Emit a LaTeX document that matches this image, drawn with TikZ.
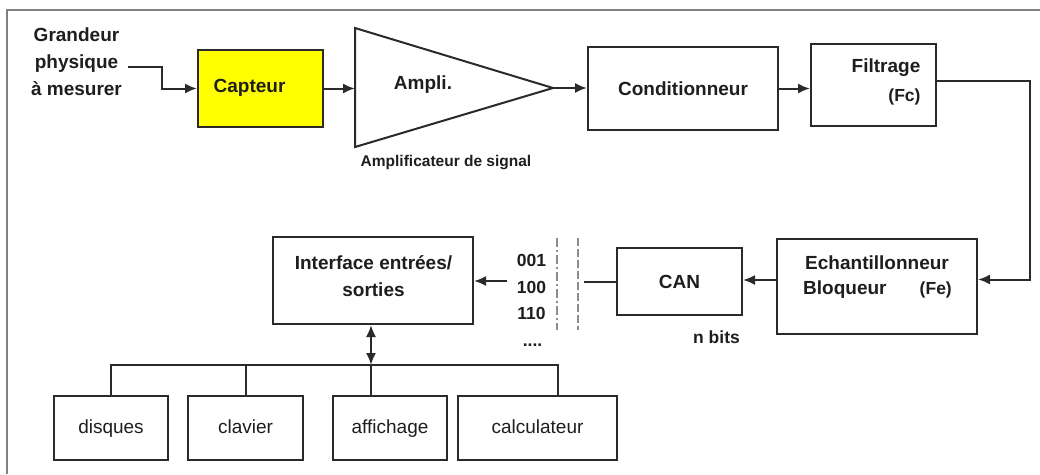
\documentclass[tikz,border=0pt]{standalone}
\usepackage{fontspec}
\setmainfont{Liberation Sans}
\usetikzlibrary{arrows.meta}
\definecolor{ln}{HTML}{2A2A2A}
\definecolor{tx}{HTML}{1E1E1E}
\definecolor{frm}{HTML}{808080}
\definecolor{dsh}{HTML}{8C8C8C}
\definecolor{yel}{RGB}{255,255,0}
\begin{document}
\begin{tikzpicture}[x=1pt,y=-1pt,
  box/.style={draw=ln, line width=2pt, inner sep=0pt, text=tx},
  big/.style={font=\fontsize{19}{27}\selectfont\bfseries, text=tx, inner sep=0pt},
  small/.style={font=\fontsize{17.5}{26}\selectfont\bfseries, text=tx, inner sep=0pt},
  reg/.style={font=\fontsize{19}{24}\selectfont, text height=14pt, text depth=4pt},
  con/.style={draw=ln, line width=2pt},
  tip/.tip={Latex[length=12pt,width=10pt]},
  arr/.style={con, -tip},
  arr2/.style={con, tip-tip}]
\useasboundingbox (0,0) rectangle (1040,474);
\fill[white] (0,0) rectangle (1040,474);
% frame
\draw[frm, line width=2pt] (7,474) -- (7,10) -- (1040,10);

% top row
\node[big, align=center] (grandeur) at (76.5,62) {Grandeur\\physique\\à mesurer};
\node[box, fill=yel, minimum width=125pt, minimum height=77pt] (capteur) at (260.5,88.5) {};
\node[big] (capteurt) at (249.5,88) {Capteur};

\coordinate (ampt) at (355,28);
\coordinate (ampb) at (355,147);
\coordinate (ampout) at (553,88);
\coordinate (ampin) at (355,88.5);
\draw[con, line join=miter] (ampt) -- (ampout) -- (ampb) -- cycle;
\node[big] (amplit) at (423,85) {Ampli.};
\node[font=\fontsize{15.5}{18}\selectfont\bfseries, text=tx, inner sep=0pt] (ampsig) at (446,163) {Amplificateur de signal};

\node[box, big, minimum width=190pt, minimum height=83pt] (cond) at (683,88.5) {Conditionneur};
\node[box, minimum width=125pt, minimum height=82pt] (filt) at (873.5,85) {};
\node[big] (filtt) at (886,68) {Filtrage};
\node[small] (fc) at (904.5,97) {(Fc)};

% second row
\node[box, minimum width=200pt, minimum height=95pt] (ech) at (877,286.5) {};
\node[big] (echt) at (877,263) {Echantillonneur};
\node[big, anchor=west] (bloq) at (803,290) {Bloqueur};
\node[small, anchor=east] (fe) at (952,290) {(Fe)};

\node[box, big, minimum width=125pt, minimum height=67pt] (can) at (679.5,281.5) {CAN};
\node[small] (nbits) at (716.5,337) {n bits};

\node[box, minimum width=200pt, minimum height=87pt] (inter) at (373,280.5) {};
\node[big, align=center] (intert) at (373.5,276.5) {Interface entrées/\\sorties};

\node[small] (b1) at (531.5,260) {001};
\node[small] (b2) at (531.5,287) {100};
\node[small] (b3) at (531.5,313) {110};
\node[small] (b4) at (532.5,345) {....};

\coordinate (d1t) at (557,238);
\coordinate (d1b) at (557,330);
\coordinate (d2t) at (578,238);
\coordinate (d2b) at (578,330);
\draw[dsh, line width=1.8pt, dash pattern=on 9pt off 3pt on 2pt off 3pt] (d1t) -- (d1b);
\draw[dsh, line width=1.8pt, dash pattern=on 8pt off 3pt] (d2t) -- (d2b);
\coordinate (bitsout) at (507,281);

% bottom boxes
\node[box, reg, minimum width=114pt, minimum height=64pt] (disques) at (111,428) {disques};
\node[box, reg, minimum width=115pt, minimum height=64pt] (clavier) at (245.5,428) {clavier};
\node[box, reg, minimum width=114pt, minimum height=64pt] (affichage) at (390,428) {affichage};
\node[box, reg, minimum width=159pt, minimum height=64pt] (calc) at (537.5,428) {calculateur};
\coordinate (busc) at (371,365);
\coordinate (calcdrop) at ([xshift=20.5pt]calc.north);

% connectors
\draw[arr] ([shift={(6pt,-5pt)}]grandeur.east) -- ++(34,0) |- (capteur.west);
\draw[arr] (capteur.east) -- (ampin);
\draw[arr] (ampout) -- (ampout -| cond.west);
\draw[arr] (cond.east) -- (cond.east -| filt.west);
\draw[arr] ([yshift=4pt]filt.east) -- ++(93,0) |- ([yshift=7pt]ech.east);
\draw[arr] ([yshift=6.5pt]ech.west) coordinate (e1) -- (e1 -| can.east);
\draw[con] (can.west) -- ++(-32,0);
\draw[arr] (bitsout) -- (bitsout -| inter.east);
\draw[arr2] (inter.south -| busc) -- (busc);
\draw[con] (disques.north) -- (disques.north |- busc) -- (busc -| calcdrop) -- (calcdrop);
\draw[con] (clavier.north) -- (clavier.north |- busc);
\draw[con] (affichage.north -| busc) -- (busc);
\end{tikzpicture}
\end{document}
